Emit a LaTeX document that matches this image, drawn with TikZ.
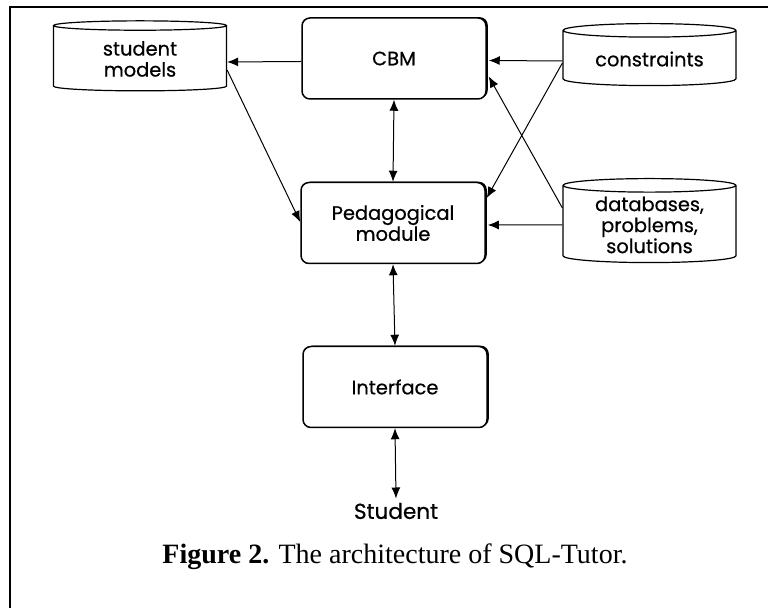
\documentclass[tikz,border=0pt]{standalone}
\usepackage{fontspec}
\setmainfont{Liberation Serif}
\newfontfamily\gothic[FakeBold=0.6]{Poppins}
\usepackage{tikz}
\usetikzlibrary{arrows.meta,calc,shapes.geometric,shadows}
\tikzset{
  module/.style={draw,line width=0.75pt,rounded corners=4pt,fill=white,
    minimum width=92pt,minimum height=40.5pt,align=center,
    font=\gothic\fontsize{9.7}{10.5}\selectfont,
    drop shadow={shadow xshift=0.9pt,shadow yshift=0.4pt,fill=black,opacity=1}},
  store/.style={draw,line width=0.6pt,cylinder,shape border rotate=90,aspect=0.12,
    fill=white,align=center,minimum width=86.5pt,inner sep=1pt,
    font=\gothic\fontsize{9.7}{10.5}\selectfont},
  link/.style={-{Latex[length=5.5pt,width=4.5pt]},line width=0.5pt},
  biway/.style={{Latex[length=5.5pt,width=4.5pt]}-{Latex[length=5.5pt,width=4.5pt]},line width=0.5pt}
}
\begin{document}
\begin{tikzpicture}[x=0.5pt,y=-0.5pt]
\useasboundingbox (0,0) rectangle (768,608);
\draw [line width=0.65pt] (10,608) -- (10,7) -- (768,7);
% modules
\node [module] (cbm) at (394,58.5) {CBM};
\node [module] (ped) at (393,223) {Pedagogical\\module};
\node [module] (intf) at (395,387) {Interface};
\node [font=\gothic\fontsize{10.8}{12}\selectfont,inner sep=2pt] (stu) at (396,511) {Student};
% data stores
\node [store,minimum height=35pt] (sm) at (140,59) {student\\models};
\node [store,minimum height=31pt] (cons) at (649.5,59) {constraints};
\node [store,minimum height=42pt] (db) at (649.5,225) {databases,\\problems,\\solutions};
% connectors
\draw [link] ($(cbm.west)+(0,3)$) -- ($(sm.east)+(0,3)$);
\draw [link] ($(cons.west)+(0,2)$) -- ($(cbm.east)+(2,2)$);
\draw [link] ($(db.west)+(0,-17)$) -- ($(cbm.east)+(2,18)$);
\draw [link] ($(cons.west)+(0,4)$) -- ($(ped.east)+(1,-25)$);
\draw [link] (db.west) -- ($(ped.east)+(2,2)$);
\draw [link] ($(sm.east)+(0,11)$) -- ($(ped.west)+(0,-1)$);
\draw [biway] (cbm.south) -- (ped.north);
\draw [biway] (ped.south) -- (intf.north);
\draw [biway] (intf.south) -- (stu.north);
%\draw [dashed] (cbm) -- (intf);
\node [font=\fontsize{14}{15}\selectfont] (cap) at (395,557) {\textbf{Figure 2.} The architecture of SQL-Tutor.};
\end{tikzpicture}
\end{document}
